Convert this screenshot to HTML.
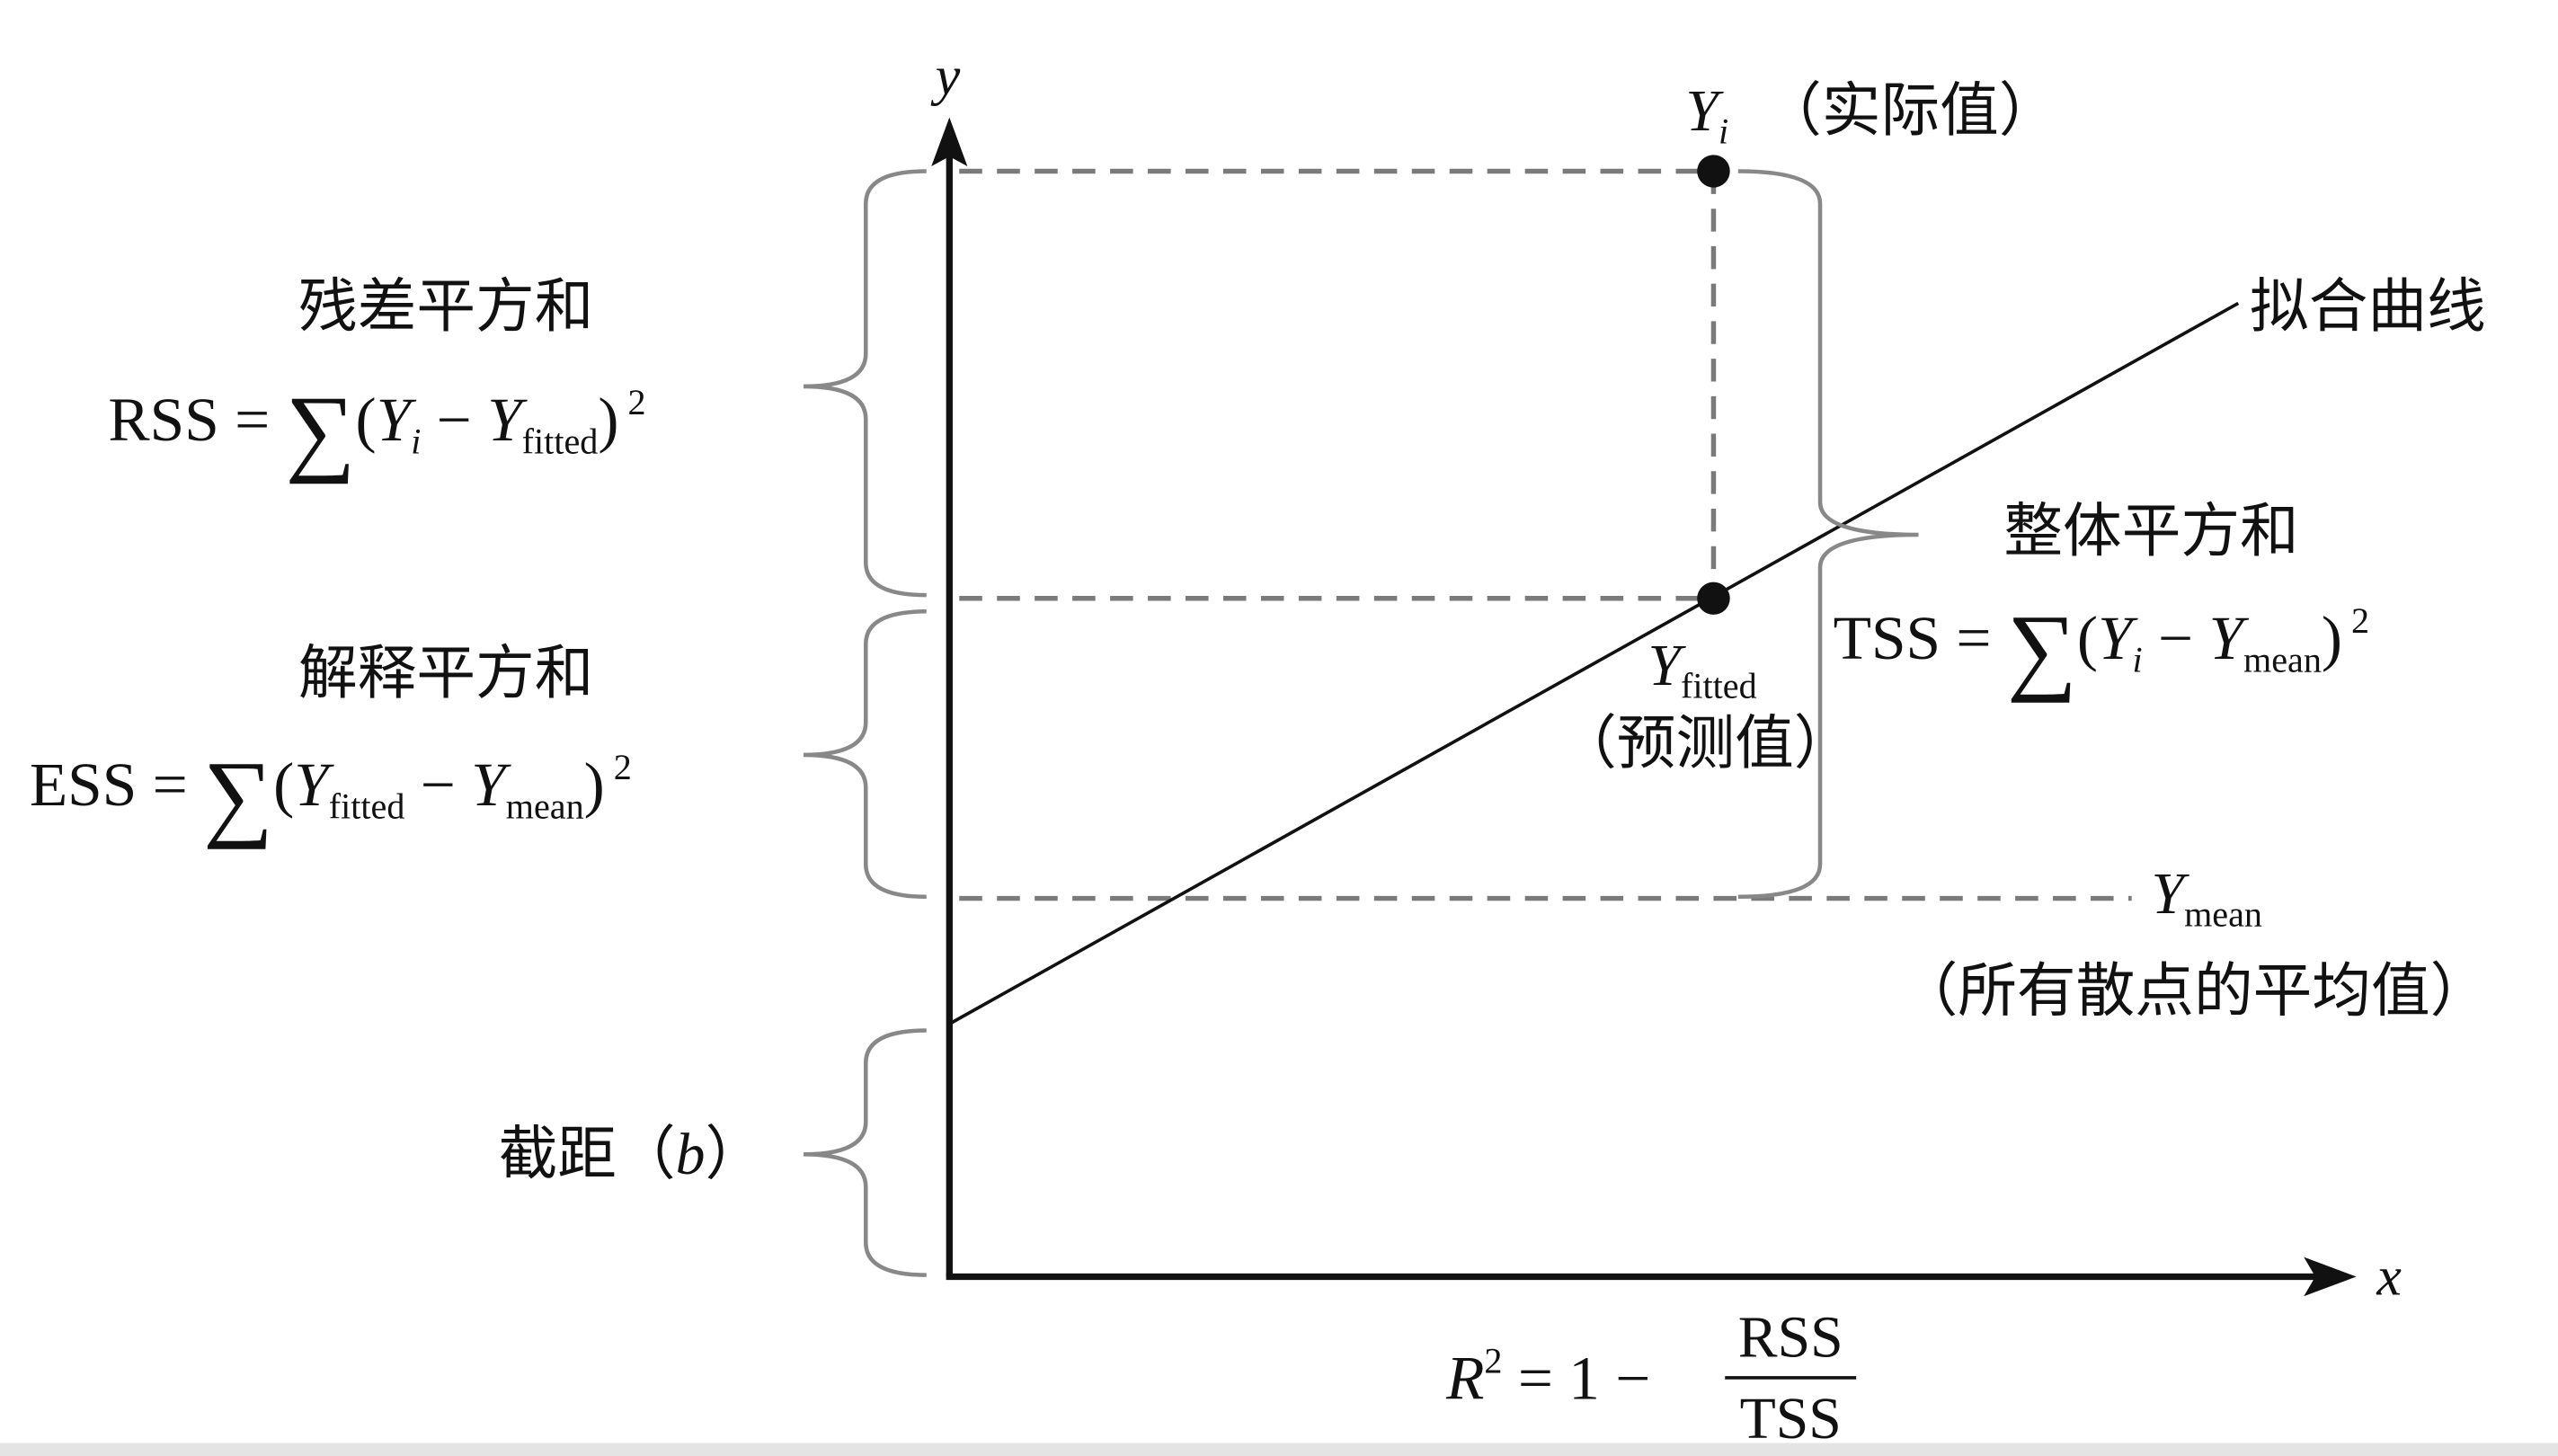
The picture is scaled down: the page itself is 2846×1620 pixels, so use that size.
<!DOCTYPE html>
<html><head><meta charset="utf-8"><style>
html,body{margin:0;padding:0;background:#fff;}
svg{display:block;}
text{font-family:"Liberation Serif","Noto Serif CJK SC",serif;fill:#111;}
.cn{font-family:"Liberation Sans","Noto Sans CJK SC",sans-serif;}
</style></head><body>
<svg width="2846" height="1620" viewBox="0 0 1560 893" preserveAspectRatio="none" xmlns="http://www.w3.org/2000/svg">
<rect width="1560" height="893" fill="#fff"/>
<rect x="0" y="885" width="1560" height="8" fill="#e4e4e4"/>
<!-- dashed lines -->
<g stroke="#7a7a7a" stroke-width="3" stroke-dasharray="14,9" fill="none">
<line x1="585" y1="105" x2="1045" y2="105"/>
<line x1="585" y1="367" x2="1045" y2="367"/>
<line x1="585" y1="551" x2="1300" y2="551"/>
<line x1="1045" y1="105" x2="1045" y2="367"/>
</g>
<!-- fit line -->
<line x1="579" y1="628" x2="1365" y2="186" stroke="#111" stroke-width="2"/>
<!-- axes -->
<line x1="579" y1="783" x2="579" y2="95" stroke="#111" stroke-width="4"/>
<polygon points="579,72 568,102 579,96 590,102" fill="#111"/>
<line x1="577" y1="783" x2="1415" y2="783" stroke="#111" stroke-width="4"/>
<polygon points="1437,783 1405,771 1412,783 1405,795" fill="#111"/>
<circle cx="1045" cy="105" r="10" fill="#111"/>
<circle cx="1045" cy="367" r="10" fill="#111"/>
<!-- braces -->
<g stroke="#888" stroke-width="2.5" fill="none">
<path d="M565,105 Q528,105 528,125 L528,217 Q528,237 490,237 Q528,237 528,257 L528,345 Q528,365 565,365"/>
<path d="M565,375 Q528,375 528,395 L528,443 Q528,463 490,463 Q528,463 528,483 L528,530 Q528,550 565,550"/>
<path d="M565,632 Q528,632 528,652 L528,688 Q528,708 490,708 Q528,708 528,728 L528,762 Q528,782 565,782"/>
<path d="M1060,105 Q1110,105 1110,125 L1110,308 Q1110,328 1170,328 Q1110,328 1110,348 L1110,530 Q1110,550 1060,550"/>
</g>
<!-- labels -->
<text x="578" y="58" font-size="34" font-style="italic" text-anchor="middle">y</text>
<text x="1457" y="794" font-size="34" font-style="italic" text-anchor="middle">x</text>
<text x="1028" y="80" font-size="36" font-style="italic">Y<tspan font-size="22" dy="8">i</tspan></text>
<text x="1075" y="80" font-size="36" class="cn">（实际值）</text>
<text x="1372" y="200" font-size="36" class="cn">拟合曲线</text>
<text x="1222" y="338" font-size="36" class="cn">整体平方和</text>
<text x="1118" y="404" font-size="38">TSS = <tspan font-size="60" dy="14">∑</tspan><tspan dy="-14">(</tspan><tspan font-style="italic">Y</tspan><tspan font-size="22" font-style="italic" dy="8">i</tspan><tspan dy="-8"> − </tspan><tspan font-style="italic">Y</tspan><tspan font-size="22" dy="8">mean</tspan><tspan dy="-8">)</tspan><tspan font-size="22" dy="-16"> 2</tspan></text>
<text x="1005" y="420" font-size="36" font-style="italic">Y<tspan font-size="22" font-style="normal" dy="8">fitted</tspan></text>
<text x="950" y="468" font-size="36" class="cn">（预测值）</text>
<text x="1312" y="560" font-size="36" font-style="italic">Y<tspan font-size="22" font-style="normal" dy="8">mean</tspan></text>
<text x="1158" y="620" font-size="36" class="cn">（所有散点的平均值）</text>
<text x="272" y="200" font-size="36" class="cn" text-anchor="middle">残差平方和</text>
<text x="66" y="270" font-size="38">RSS = <tspan font-size="60" dy="14">∑</tspan><tspan dy="-14">(</tspan><tspan font-style="italic">Y</tspan><tspan font-size="22" font-style="italic" dy="8">i</tspan><tspan dy="-8"> − </tspan><tspan font-style="italic">Y</tspan><tspan font-size="22" dy="8">fitted</tspan><tspan dy="-8">)</tspan><tspan font-size="22" dy="-16"> 2</tspan></text>
<text x="272" y="425" font-size="36" class="cn" text-anchor="middle">解释平方和</text>
<text x="18" y="494" font-size="38">ESS = <tspan font-size="60" dy="14">∑</tspan><tspan dy="-14">(</tspan><tspan font-style="italic">Y</tspan><tspan font-size="22" dy="8">fitted</tspan><tspan dy="-8"> − </tspan><tspan font-style="italic">Y</tspan><tspan font-size="22" dy="8">mean</tspan><tspan dy="-8">)</tspan><tspan font-size="22" dy="-16"> 2</tspan></text>
<text x="304" y="720" font-size="36" class="cn">截距（<tspan font-family="Liberation Serif" font-style="italic">b</tspan>）</text>
<text x="882" y="858" font-size="38"><tspan font-style="italic">R</tspan><tspan font-size="22" dy="-16">2</tspan><tspan dy="16"> = 1 − </tspan></text>
<text x="1092" y="832" font-size="36" text-anchor="middle">RSS</text>
<line x1="1052" y1="845" x2="1132" y2="845" stroke="#111" stroke-width="2"/>
<text x="1092" y="882" font-size="36" text-anchor="middle">TSS</text>
</svg>
</body></html>
